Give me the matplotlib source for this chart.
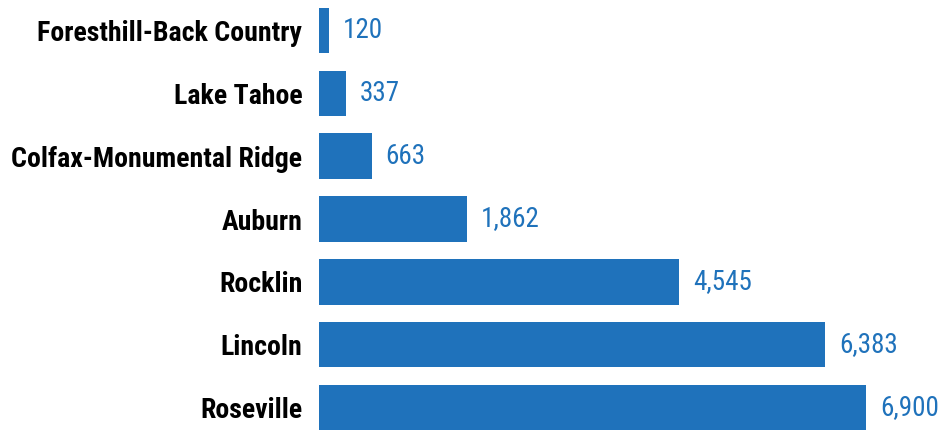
import matplotlib
matplotlib.use("Agg")
import matplotlib.pyplot as plt
from matplotlib import font_manager as fm

categories = ["Roseville", "Lincoln", "Rocklin", "Auburn",
              "Colfax-Monumental Ridge", "Lake Tahoe", "Foresthill-Back Country"]
values = [6900, 6383, 4545, 1862, 663, 337, 120]

names = {f.name for f in fm.fontManager.ttflist}
fam = "DejaVu Sans"
stretch = "condensed"
for cand in ["Roboto Condensed", "Liberation Sans Narrow", "Open Sans Condensed",
             "Noto Sans Condensed", "DejaVu Sans Condensed"]:
    if cand in names:
        fam = cand
        stretch = "normal" if cand != "DejaVu Sans Condensed" else "condensed"
        break

W, H = 946, 430
fig = plt.figure(figsize=(W/100, H/100), dpi=100)
left = 319 / W
ax = fig.add_axes([left, 0, 1 - left, 1])
color = "#1F72BB"
y = list(range(len(categories)))
ax.barh(y, values, height=0.725, color=color)

space = 62.8
ax.set_ylim(-22.5/space, 6 + 30.5/space)
ax.set_xlim(0, 6900 * (W - 319) / 547)

# fit label size so the longest label spans about 265 px
renderer = fig.canvas.get_renderer()
def width_at(size, weight, s):
    t = fig.text(0, 0, s, fontsize=size, fontweight=weight, family=fam, fontstretch=stretch)
    w = t.get_window_extent(renderer).width
    t.remove()
    return w
lab_size = 18 * 265 / width_at(18, "bold", "Foresthill-Back Country")
lab_size = min(lab_size, 22)
val_size = 18 * 59 / width_at(18, "normal", "6,900")
val_size = min(val_size, 23)

for yi, v in zip(y, values):
    ax.annotate(f"{v:,}", (v, yi), xytext=(10, 0), textcoords="offset points",
                va="center", ha="left", color=color,
                fontsize=val_size, family=fam, fontstretch=stretch)

ax.set_yticks(y)
ax.set_yticklabels(categories, fontsize=lab_size, fontweight="bold", family=fam,
                   fontstretch=stretch)
ax.tick_params(axis="y", length=0, pad=12)
ax.set_xticks([])
for s in ax.spines.values():
    s.set_visible(False)

fig.savefig("out.png", dpi=100)
